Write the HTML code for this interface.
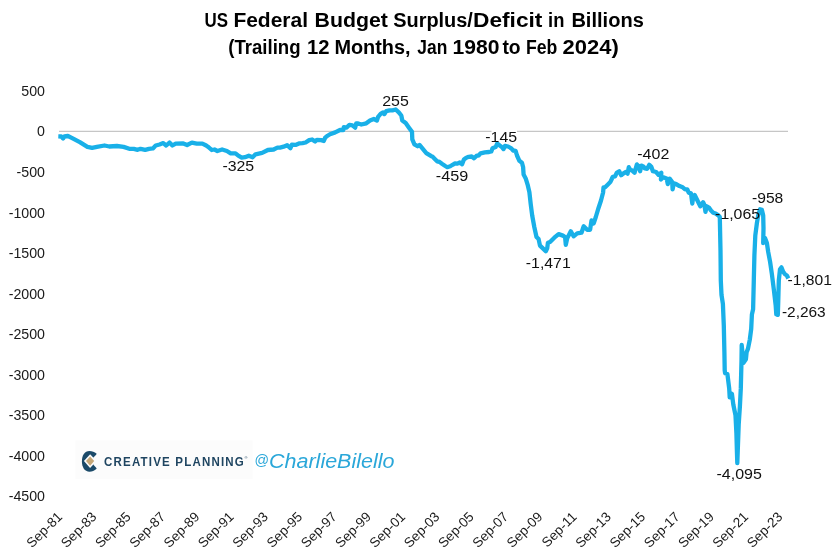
<!DOCTYPE html>
<html><head><meta charset="utf-8"><style>
html,body{margin:0;padding:0;background:#fff;}
body{width:840px;height:559px;overflow:hidden;}
svg{display:block;will-change:transform;}
text{font-family:"Liberation Sans",sans-serif;fill:#000;}
.t{font-weight:bold;font-size:20px;}
.ax{font-size:14.2px;fill:#1a1a1a;}
.xl{font-size:13.6px;fill:#1a1a1a;}
.dl{font-size:15.4px;fill:#111;}
</style></head><body>
<svg width="840" height="559" viewBox="0 0 840 559">
<rect width="840" height="559" fill="#fff"/>
<text x="204.6" y="26.6" textLength="23.5" lengthAdjust="spacingAndGlyphs" class="t">US</text><text x="233.4" y="26.6" textLength="74.6" lengthAdjust="spacingAndGlyphs" class="t">Federal</text><text x="314.6" y="26.6" textLength="73.3" lengthAdjust="spacingAndGlyphs" class="t">Budget</text><text x="393.2" y="26.6" textLength="79.7" lengthAdjust="spacingAndGlyphs" class="t">Surplus/</text><text x="473.0" y="26.6" textLength="69.4" lengthAdjust="spacingAndGlyphs" class="t">Deficit</text><text x="548.1" y="26.6" textLength="16.3" lengthAdjust="spacingAndGlyphs" class="t">in</text><text x="571.4" y="26.6" textLength="72.4" lengthAdjust="spacingAndGlyphs" class="t">Billions</text>
<text x="228.2" y="54.2" textLength="72.4" lengthAdjust="spacingAndGlyphs" class="t">(Trailing</text><text x="306.9" y="54.2" textLength="22.5" lengthAdjust="spacingAndGlyphs" class="t">12</text><text x="334.4" y="54.2" textLength="76.2" lengthAdjust="spacingAndGlyphs" class="t">Months,</text><text x="417.3" y="54.2" textLength="30.0" lengthAdjust="spacingAndGlyphs" class="t">Jan</text><text x="452.6" y="54.2" textLength="47.0" lengthAdjust="spacingAndGlyphs" class="t">1980</text><text x="502.4" y="54.2" textLength="18.2" lengthAdjust="spacingAndGlyphs" class="t">to</text><text x="525.9" y="54.2" textLength="31.4" lengthAdjust="spacingAndGlyphs" class="t">Feb</text><text x="562.6" y="54.2" textLength="56.2" lengthAdjust="spacingAndGlyphs" class="t">2024)</text>
<line x1="59" y1="131.4" x2="788" y2="131.4" stroke="#c6c6c6" stroke-width="1.2"/>
<rect x="491.5" y="130" width="25.5" height="3" fill="#fff"/>
<text x="45.0" y="95.8" text-anchor="end" class="ax">500</text>
<text x="45.0" y="136.4" text-anchor="end" class="ax">0</text>
<text x="45.0" y="177.0" text-anchor="end" class="ax">-500</text>
<text x="45.0" y="217.5" text-anchor="end" class="ax">-1000</text>
<text x="45.0" y="258.1" text-anchor="end" class="ax">-1500</text>
<text x="45.0" y="298.6" text-anchor="end" class="ax">-2000</text>
<text x="45.0" y="339.1" text-anchor="end" class="ax">-2500</text>
<text x="45.0" y="379.7" text-anchor="end" class="ax">-3000</text>
<text x="45.0" y="420.2" text-anchor="end" class="ax">-3500</text>
<text x="45.0" y="460.8" text-anchor="end" class="ax">-4000</text>
<text x="45.0" y="501.4" text-anchor="end" class="ax">-4500</text>

<text transform="translate(63.1,517.6) rotate(-45)" text-anchor="end" class="xl">Sep-81</text>
<text transform="translate(97.4,517.6) rotate(-45)" text-anchor="end" class="xl">Sep-83</text>
<text transform="translate(131.7,517.6) rotate(-45)" text-anchor="end" class="xl">Sep-85</text>
<text transform="translate(166.0,517.6) rotate(-45)" text-anchor="end" class="xl">Sep-87</text>
<text transform="translate(200.3,517.6) rotate(-45)" text-anchor="end" class="xl">Sep-89</text>
<text transform="translate(234.6,517.6) rotate(-45)" text-anchor="end" class="xl">Sep-91</text>
<text transform="translate(268.9,517.6) rotate(-45)" text-anchor="end" class="xl">Sep-93</text>
<text transform="translate(303.2,517.6) rotate(-45)" text-anchor="end" class="xl">Sep-95</text>
<text transform="translate(337.5,517.6) rotate(-45)" text-anchor="end" class="xl">Sep-97</text>
<text transform="translate(371.8,517.6) rotate(-45)" text-anchor="end" class="xl">Sep-99</text>
<text transform="translate(406.1,517.6) rotate(-45)" text-anchor="end" class="xl">Sep-01</text>
<text transform="translate(440.4,517.6) rotate(-45)" text-anchor="end" class="xl">Sep-03</text>
<text transform="translate(474.7,517.6) rotate(-45)" text-anchor="end" class="xl">Sep-05</text>
<text transform="translate(509.0,517.6) rotate(-45)" text-anchor="end" class="xl">Sep-07</text>
<text transform="translate(543.3,517.6) rotate(-45)" text-anchor="end" class="xl">Sep-09</text>
<text transform="translate(577.6,517.6) rotate(-45)" text-anchor="end" class="xl">Sep-11</text>
<text transform="translate(611.9,517.6) rotate(-45)" text-anchor="end" class="xl">Sep-13</text>
<text transform="translate(646.2,517.6) rotate(-45)" text-anchor="end" class="xl">Sep-15</text>
<text transform="translate(680.5,517.6) rotate(-45)" text-anchor="end" class="xl">Sep-17</text>
<text transform="translate(714.8,517.6) rotate(-45)" text-anchor="end" class="xl">Sep-19</text>
<text transform="translate(749.1,517.6) rotate(-45)" text-anchor="end" class="xl">Sep-21</text>
<text transform="translate(783.4,517.6) rotate(-45)" text-anchor="end" class="xl">Sep-23</text>

<rect x="75.5" y="440.5" width="177" height="38.5" fill="#fcfcfc"/>
<g>
<path d="M96.6,453.8 C94.5,451.8 92,450.9 89.5,450.9 C84.5,450.9 81.9,455.5 81.9,461.3 C81.9,467.1 84.5,471.7 89.5,471.7 C92,471.7 94.5,470.8 96.6,468.8 Z" fill="#1b4a69"/>
<path d="M83.9,461.1 L90.1,454.2 L96.6,461.1 L90.1,468 Z" fill="#fcfcfc"/>
<path d="M93.4,457.6 L97.6,453.3 L99,453.3 L99,469.3 L97.6,469.3 L93.4,464.8 Z" fill="#fcfcfc"/>
<path d="M90.1,456.4 L94.2,461.1 L90.1,465.8 L86,461.1 Z" fill="#c6a878"/>
<text transform="scale(0.88,1)" x="118.18" y="466.2" textLength="158.86" lengthAdjust="spacing" style="font-weight:bold;font-size:13.1px;fill:#1f4561;">CREATIVE PLANNING</text>
<text x="244.5" y="459" style="font-size:4px;fill:#1f4561;">&#174;</text>
<text x="254.3" y="465" textLength="14.6" lengthAdjust="spacingAndGlyphs" style="font-style:italic;font-size:14.5px;fill:#2aa7d9;">@</text>
<text x="269" y="467.9" textLength="125.5" lengthAdjust="spacingAndGlyphs" style="font-style:italic;font-size:19.5px;fill:#2aa7d9;">CharlieBilello</text>
</g>
<path d="M58.3,136.4 L61.3,136.5 L63.1,138.4 L64.5,136.5 L67.9,136.0 L71.7,137.9 L79.8,142.2 L87.4,146.9 L92.1,147.9 L96.9,146.9 L104.5,145.5 L109.3,146.5 L116.9,146.0 L123.6,146.9 L129.3,148.8 L133.8,148.8 L137.6,149.8 L140.5,148.8 L145.2,149.8 L149.0,148.8 L152.9,148.4 L155.7,145.5 L159.5,144.5 L163.3,143.1 L166.2,145.5 L169.5,142.6 L172.4,145.5 L175.7,143.6 L183.3,143.4 L187.1,145.0 L191.9,142.6 L196.7,143.6 L202.4,143.6 L206.2,145.5 L207.9,146.7 L211.7,150.0 L214.5,149.5 L217.4,151.0 L222.1,149.5 L226.9,151.0 L230.7,153.4 L235.5,153.4 L238.3,155.7 L241.7,157.6 L245.0,157.2 L248.8,155.7 L252.6,157.2 L255.5,154.3 L262.1,152.9 L267.9,150.0 L273.6,149.5 L277.4,147.6 L280.0,147.6 L283.6,146.7 L287.1,145.2 L290.4,148.2 L291.9,144.6 L295.5,144.9 L299.0,143.4 L302.6,143.1 L305.6,142.5 L309.2,140.1 L312.1,139.5 L315.1,141.6 L316.9,139.8 L321.1,140.1 L323.8,141.0 L325.2,137.7 L327.6,135.7 L330.0,134.2 L335.2,132.4 L340.0,130.0 L343.3,130.0 L343.8,127.2 L346.7,127.6 L349.5,124.8 L352.4,125.3 L355.2,127.6 L356.2,123.4 L357.5,123.3 L361.3,124.5 L366.3,123.3 L370.0,120.5 L373.8,119.0 L376.9,120.5 L378.1,116.8 L380.6,113.9 L383.1,112.4 L384.4,114.1 L386.3,111.1 L389.5,110.3 L392.5,110.3 L395.7,109.5 L398.8,112.4 L401.3,115.5 L402.3,120.5 L405.7,123.0 L408.8,127.4 L412.0,131.8 L412.3,139.3 L414.4,144.3 L417.6,146.2 L419.5,144.9 L422.6,148.7 L426.3,153.1 L431.3,156.2 L432.4,156.5 L434.8,158.9 L437.1,161.3 L439.5,161.9 L441.9,163.7 L444.9,165.7 L447.3,167.2 L450.2,166.3 L452.6,164.8 L455.0,163.4 L457.4,163.7 L459.8,162.5 L462.1,164.2 L463.9,159.5 L466.3,157.7 L468.7,156.8 L471.7,156.5 L474.0,158.3 L476.4,155.9 L478.8,155.3 L480.5,153.4 L484.8,152.4 L489.1,152.0 L491.3,151.5 L492.5,148.3 L495.6,147.1 L497.2,143.6 L499.4,145.2 L501.9,147.1 L503.5,149.0 L505.0,145.8 L508.1,146.5 L511.3,148.3 L513.2,150.5 L515.6,150.8 L517.0,155.5 L519.4,160.8 L521.9,162.7 L523.1,167.0 L523.6,174.5 L525.7,178.4 L527.6,184.6 L529.4,192.2 L530.7,204.1 L532.2,215.5 L534.3,227.0 L536.5,237.0 L538.6,239.1 L540.0,245.6 L542.9,248.4 L545.8,251.3 L547.2,248.4 L547.9,242.7 L550.0,242.0 L554.3,237.7 L558.6,234.1 L562.9,235.6 L565.1,237.0 L565.8,244.9 L567.2,238.4 L570.8,231.3 L573.6,236.3 L577.2,233.4 L581.5,232.7 L583.7,226.3 L587.2,229.8 L590.1,229.8 L591.5,220.5 L593.7,223.4 L595.8,217.0 L598.6,207.7 L601.0,200.5 L603.1,192.5 L603.5,187.3 L605.1,187.3 L607.9,184.5 L610.3,182.1 L611.9,178.8 L612.7,176.8 L615.1,176.4 L616.7,172.8 L619.2,171.2 L621.2,175.2 L623.2,173.6 L625.6,172.0 L627.6,173.6 L628.8,167.2 L630.4,170.0 L632.0,170.4 L634.5,172.8 L636.9,164.4 L638.5,166.0 L640.1,171.2 L641.3,165.6 L643.3,166.4 L644.8,168.4 L647.2,168.8 L649.3,164.8 L651.3,166.8 L652.9,171.2 L656.1,172.0 L658.5,174.8 L661.3,172.8 L660.9,179.5 L663.3,177.2 L666.6,178.4 L667.8,184.1 L669.8,178.8 L672.2,182.1 L672.6,189.3 L673.8,183.3 L676.2,184.1 L679.5,186.1 L682.7,187.3 L685.1,189.3 L687.4,189.4 L688.6,192.6 L691.0,193.4 L692.3,203.5 L693.2,196.6 L694.7,195.0 L696.3,198.2 L698.3,202.2 L700.3,206.3 L703.1,202.2 L704.3,204.7 L705.5,211.9 L706.7,206.3 L709.2,207.9 L710.8,210.3 L713.2,212.7 L715.6,213.5 L718.0,215.1 L719.8,217.0 L720.5,250.5 L720.8,280.5 L721.5,294.8 L722.9,303.8 L723.8,325.3 L724.4,352.2 L724.7,370.1 L725.1,373.2 L727.4,374.1 L729.2,388.4 L729.7,397.4 L731.9,393.8 L733.3,404.5 L735.5,415.3 L736.4,433.2 L736.9,450.6 L737.3,463.2 L738.7,424.3 L739.9,406.3 L740.8,388.4 L741.5,360.5 L741.7,345.0 L743.5,362.9 L745.9,359.4 L746.6,352.2 L748.0,348.6 L749.8,339.6 L751.2,328.9 L751.9,314.5 L753.1,309.3 L753.8,280.5 L754.4,255.5 L755.3,235.5 L756.9,223.1 L758.2,215.5 L760.0,209.3 L761.9,209.9 L763.2,215.5 L763.5,228.1 L763.2,243.1 L765.0,238.1 L766.9,243.1 L768.2,251.9 L770.1,261.9 L771.9,274.3 L773.8,289.3 L775.7,305.6 L776.3,314.3 L777.8,314.9 L778.2,303.1 L778.8,280.5 L780.0,269.3 L781.5,267.4 L783.2,271.8 L785.0,274.3 L786.9,275.5 L788.3,278.5" fill="none" stroke="#19b0e8" stroke-width="4.3" stroke-linejoin="round" stroke-linecap="butt"/>
<text x="382.2" y="106.0" textLength="26.6" lengthAdjust="spacingAndGlyphs" class="dl">255</text>
<text x="222.4" y="171.0" textLength="31.8" lengthAdjust="spacingAndGlyphs" class="dl">-325</text>
<text x="435.8" y="181.4" textLength="32.4" lengthAdjust="spacingAndGlyphs" class="dl">-459</text>
<text x="485.3" y="141.5" textLength="31.8" lengthAdjust="spacingAndGlyphs" class="dl">-145</text>
<text x="525.8" y="268.0" textLength="44.9" lengthAdjust="spacingAndGlyphs" class="dl">-1,471</text>
<text x="637.3" y="158.6" textLength="32.0" lengthAdjust="spacingAndGlyphs" class="dl">-402</text>
<text x="715.1" y="219.4" textLength="45.0" lengthAdjust="spacingAndGlyphs" class="dl">-1,065</text>
<text x="752.0" y="203.0" textLength="31.3" lengthAdjust="spacingAndGlyphs" class="dl">-958</text>
<text x="787.6" y="285.0" textLength="44.4" lengthAdjust="spacingAndGlyphs" class="dl">-1,801</text>
<text x="781.9" y="317.0" textLength="43.8" lengthAdjust="spacingAndGlyphs" class="dl">-2,263</text>
<text x="716.5" y="478.9" textLength="45.4" lengthAdjust="spacingAndGlyphs" class="dl">-4,095</text>

</svg>
</body></html>
